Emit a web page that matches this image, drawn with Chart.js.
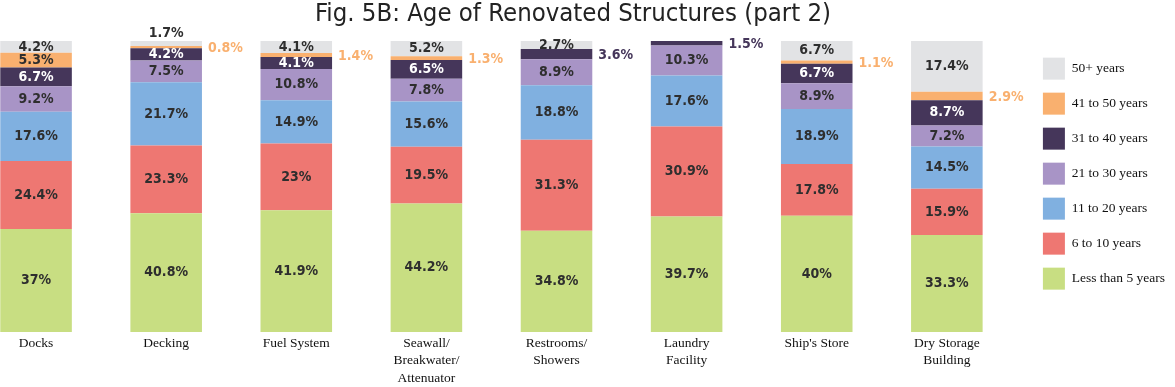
<!DOCTYPE html>
<html lang="en">
<head>
  <meta charset="UTF-8">
  <title>Fig. 5B: Age of Renovated Structures (part 2)</title>
  <script src="https://cdn.jsdelivr.net/npm/chart.js"></script>
  <style>
    html, body { margin: 0; padding: 0; background: #fff; overflow: hidden; }
    #wrap { position: absolute; left: -29px; top: 0; width: 1204px; height: 387px; }
  </style>
</head>
<body>
  <div id="wrap"><canvas id="ageChart"></canvas></div>

  <script>
    const categories = [
      ['Docks'], ['Decking'], ['Fuel System'], ['Seawall/', 'Breakwater/', 'Attenuator'],
      ['Restrooms/', 'Showers'], ['Laundry', 'Facility'], ["Ship's Store"], ['Dry Storage', 'Building']
    ];
    const seriesNames = ['Less than 5 years', '6 to 10 years', '11 to 20 years', '21 to 30 years',
      '31 to 40 years', '41 to 50 years', '50+ years'];

    const under5 = [37, 40.8, 41.9, 44.2, 34.8, 39.7, 40, 33.3];
    const y6to10 = [24.4, 23.3, 23, 19.5, 31.3, 30.9, 17.8, 15.9];
    const y11to20 = [17.6, 21.7, 14.9, 15.6, 18.8, 17.6, 18.9, 14.5];
    const y21to30 = [9.2, 7.5, 10.8, 7.8, 8.9, 10.3, 8.9, 7.2];
    const y31to40 = [6.7, 4.2, 4.1, 6.5, 3.6, 1.5, 6.7, 8.7];
    const y41to50 = [5.3, 0.8, 1.4, 1.3, 0, 0, 1.1, 2.9];
    const y50plus = [4.2, 1.7, 4.1, 5.2, 2.7, 0, 6.7, 17.4];

    const colors = ['#c8de82', '#ee7772', '#80b0e0', '#a894c6', '#45365a', '#f9b06f', '#e2e3e5'];

    const series = [under5, y6to10, y11to20, y21to30, y31to40, y41to50, y50plus];
    // bars are drawn as 100% stacks (Docks adds up to 104.4)
    const totals = categories.map((c, j) => series.reduce((s, arr) => s + arr[j], 0));

    const datasets = series.map((arr, i) => ({
      label: seriesNames[i],
      data: arr.map((v, j) => v / totals[j] * 100),
      raw: arr,
      backgroundColor: colors[i],
      borderWidth: 0,
      barPercentage: 0.55,
      categoryPercentage: 1
    }));

    const valueLabels = {
      id: 'valueLabels',
      afterDatasetsDraw(chart) {
        const ctx = chart.ctx;
        ctx.save();
        ctx.font = 'bold 14px "DejaVu Sans Condensed", "DejaVu Sans", sans-serif';
        ctx.textBaseline = 'middle';
        chart.data.datasets.forEach((ds, i) => {
          const meta = chart.getDatasetMeta(i);
          meta.data.forEach((bar, j) => {
            const v = ds.raw[j];
            if (!v) return;
            const txt = v + '%';
            const cy = (bar.y + bar.base) / 2;
            if (i === 6 && v < 2) {
              // tiny top slice: value above the bar
              ctx.textAlign = 'center';
              ctx.fillStyle = '#2e2e2e';
              ctx.fillText(txt, bar.x, bar.y - 8);
            } else if (i !== 6 && v < 4) {
              // thin slice: value to the right, in the slice colour
              ctx.textAlign = 'left';
              ctx.fillStyle = colors[i];
              ctx.fillText(txt, bar.x + bar.width / 2 + 6, cy + 1);
            } else {
              ctx.textAlign = 'center';
              ctx.fillStyle = i === 4 ? '#ffffff' : '#2e2e2e';
              ctx.fillText(txt, bar.x, cy);
            }
          });
        });
        ctx.restore();
      }
    };

    new Chart(document.getElementById('ageChart').getContext('2d'), {
      type: 'bar',
      data: { labels: categories, datasets },
      plugins: [valueLabels],
      options: {
        responsive: true,
        maintainAspectRatio: false,
        animation: false,
        plugins: {
          title: {
            display: true,
            text: 'Fig. 5B: Age of Renovated Structures (part 2)',
            color: '#222',
            font: { family: '"DejaVu Sans Condensed", "DejaVu Sans", sans-serif', size: 25.5, weight: 'normal', lineHeight: 1.1 },
            padding: { top: 0, bottom: 13 }
          },
          legend: {
            position: 'right',
            align: 'start',
            reverse: true,
            fullSize: false,
            title: { display: true, text: ' ', padding: 0, font: { size: 3 } },
            labels: {
              boxWidth: 22,
              boxHeight: 22,
              padding: 13,
              color: '#111',
              font: { family: '"Liberation Serif", "DejaVu Serif", serif', size: 13.5 }
            }
          },
          tooltip: { enabled: false }
        },
        scales: {
          x: {
            stacked: true,
            grid: { display: false, drawTicks: false },
            border: { display: false },
            afterFit: (s) => { s.height = 55; },
            ticks: {
              color: '#111',
              padding: 2,
              maxRotation: 0,
              autoSkip: false,
              font: { family: '"Liberation Serif", "DejaVu Serif", serif', size: 13.5, lineHeight: 1.33 }
            }
          },
          y: {
            stacked: true,
            position: 'right',
            min: 0,
            max: 100,
            grid: { display: false, drawTicks: false },
            border: { display: false },
            ticks: { display: false },
            afterFit: (s) => { s.width = 18; }
          }
        }
      }
    });
  </script>
</body>
</html>
